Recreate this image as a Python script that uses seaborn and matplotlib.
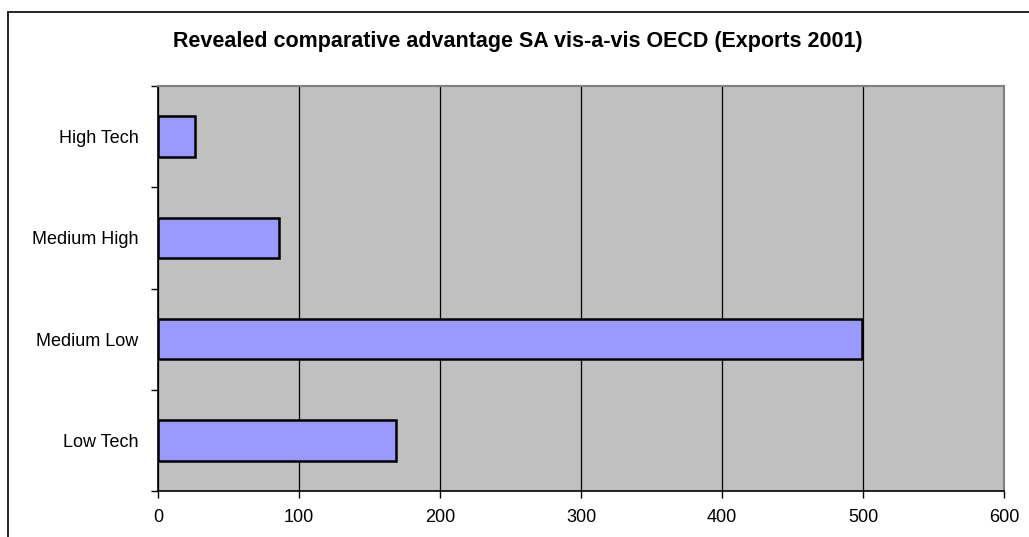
import matplotlib
matplotlib.use("Agg")
import matplotlib.pyplot as plt
from matplotlib.lines import Line2D
from matplotlib.ticker import FixedLocator, MultipleLocator
import seaborn as sns
import pandas as pd

categories = ["High Tech", "Medium High", "Medium Low", "Low Tech"]
values = [26, 86, 499, 169]
title = "Revealed comparative advantage SA vis-a-vis OECD (Exports 2001)"

df = pd.DataFrame({"sector": categories, "rca": values})

sns.set_style("white")
plt.rcParams["font.family"] = ["Liberation Sans", "DejaVu Sans"]
plt.rcParams["text.color"] = "black"
plt.rcParams["xtick.color"] = "black"
plt.rcParams["ytick.color"] = "black"

W, H = 1029, 537
fig = plt.figure(figsize=(W / 100, H / 100), dpi=100)
fig.patch.set_facecolor("white")
ax = fig.add_axes([158 / W, 1 - 491 / H, (1004 - 158) / W, (491 - 86) / H])
ax.set_facecolor("#C0C0C0")

sns.barplot(data=df, x="rca", y="sector", order=categories, orient="h",
            color="#9999FF", width=0.4, edgecolor="black", linewidth=1.8,
            saturation=1, ax=ax, zorder=3)

ax.set_xlim(0, 600)
ax.set_ylim(3.5, -0.5)
ax.xaxis.set_major_locator(MultipleLocator(100))
ax.grid(axis="x", color="black", linewidth=0.9, zorder=1)
ax.grid(axis="y", visible=False)
ax.set_axisbelow(True)

ax.set_xlabel("")
ax.set_ylabel("")

# category labels centred on bars, tick marks at category boundaries
ax.tick_params(axis="y", which="major", length=0, pad=14, labelsize=13, labelcolor="black")
ax.yaxis.set_minor_locator(FixedLocator([-0.5, 0.5, 1.5, 2.5, 3.5]))
ax.tick_params(axis="y", which="minor", length=5, width=1, color="black", direction="out", left=True)
ax.tick_params(axis="x", which="major", length=5, width=1, color="black", direction="out",
               bottom=True, pad=8, labelsize=13, labelcolor="black")

for side in ("left", "bottom"):
    ax.spines[side].set_color("black")
    ax.spines[side].set_linewidth(1.2)
for side in ("top", "right"):
    ax.spines[side].set_visible(True)
    ax.spines[side].set_color("#808080")
    ax.spines[side].set_linewidth(1.5)

fig.text(518 / W, 1 - 42 / H, title, ha="center", va="center",
         fontsize=15.5, fontweight="bold", color="black")

# chart frame
fig.add_artist(Line2D([8 / W, 1], [1 - 12 / H, 1 - 12 / H], transform=fig.transFigure,
                      color="black", linewidth=1.2))
fig.add_artist(Line2D([8 / W, 8 / W], [0, 1 - 12 / H], transform=fig.transFigure,
                      color="black", linewidth=1.2))

fig.savefig("out.png", dpi=100)
